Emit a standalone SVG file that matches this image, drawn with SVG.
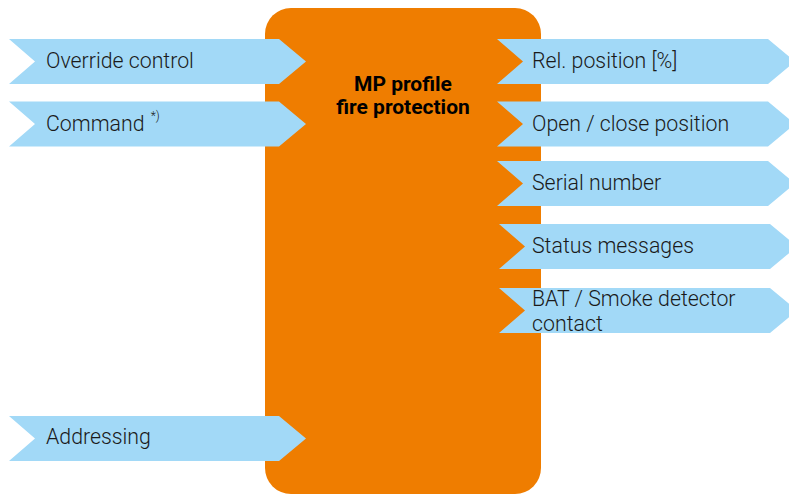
<svg xmlns="http://www.w3.org/2000/svg" width="789" height="494" viewBox="0 0 789 494">
  <style>
    .box { fill: #ef7d00; }
    .sig { fill: #a2d9f7; }
    .lbl { font-family: Roboto, "Liberation Sans", sans-serif; font-size: 21.3px; font-weight: 300; fill: #1a1a1a; }
    .sup { font-family: Roboto, "Liberation Sans", sans-serif; font-size: 12px; font-weight: 300; fill: #1a1a1a; }
    .title { font-family: Roboto, "Liberation Sans", sans-serif; font-size: 21px; font-weight: 700; fill: #000; text-anchor: middle; }
  </style>
  <defs>
    <!-- chevron-shaped signal band, 45px tall, origin at top-left -->
    <polygon id="inBand" points="0,0 270,0 297,22.5 270,45 0,45 26,22.5"/>
    <polygon id="outBand" points="0,0 271,0 298,22.5 271,45 0,45 26,22.5"/>
  </defs>

  <g id="device">
    <rect class="box" x="265" y="8" width="276" height="486" rx="26" ry="26"/>
    <text class="title" x="403" y="91">MP profile</text>
    <text class="title" x="403" y="114">fire protection</text>
  </g>

  <g id="connectors">
    <g id="in-override">
      <use href="#inBand" class="sig" x="9" y="39"/>
      <text class="lbl" x="46" y="68">Override control</text>
    </g>
    <g id="in-command">
      <use href="#inBand" class="sig" x="9" y="101.5"/>
      <text class="lbl" x="46" y="130.5">Command <tspan class="sup" dx="1" dy="-11">*)</tspan></text>
    </g>
    <g id="in-addressing">
      <use href="#inBand" class="sig" x="9" y="416"/>
      <text class="lbl" x="46" y="444">Addressing</text>
    </g>

    <g id="out-relpos">
      <use href="#outBand" class="sig" x="497" y="39"/>
      <text class="lbl" x="532" y="68">Rel. position [%]</text>
    </g>
    <g id="out-openclose">
      <use href="#outBand" class="sig" x="497" y="101.5"/>
      <text class="lbl" x="532" y="130.5">Open / close position</text>
    </g>
    <g id="out-serial">
      <use href="#outBand" class="sig" x="497" y="161"/>
      <text class="lbl" x="532" y="190">Serial number</text>
    </g>
    <g id="out-status">
      <use href="#outBand" class="sig" x="499" y="224"/>
      <text class="lbl" x="532" y="253">Status messages</text>
    </g>
    <g id="out-bat">
      <use href="#outBand" class="sig" x="499" y="288"/>
      <text class="lbl" x="532" y="306">BAT / Smoke detector</text>
      <text class="lbl" x="532" y="331">contact</text>
    </g>
  </g>
</svg>
